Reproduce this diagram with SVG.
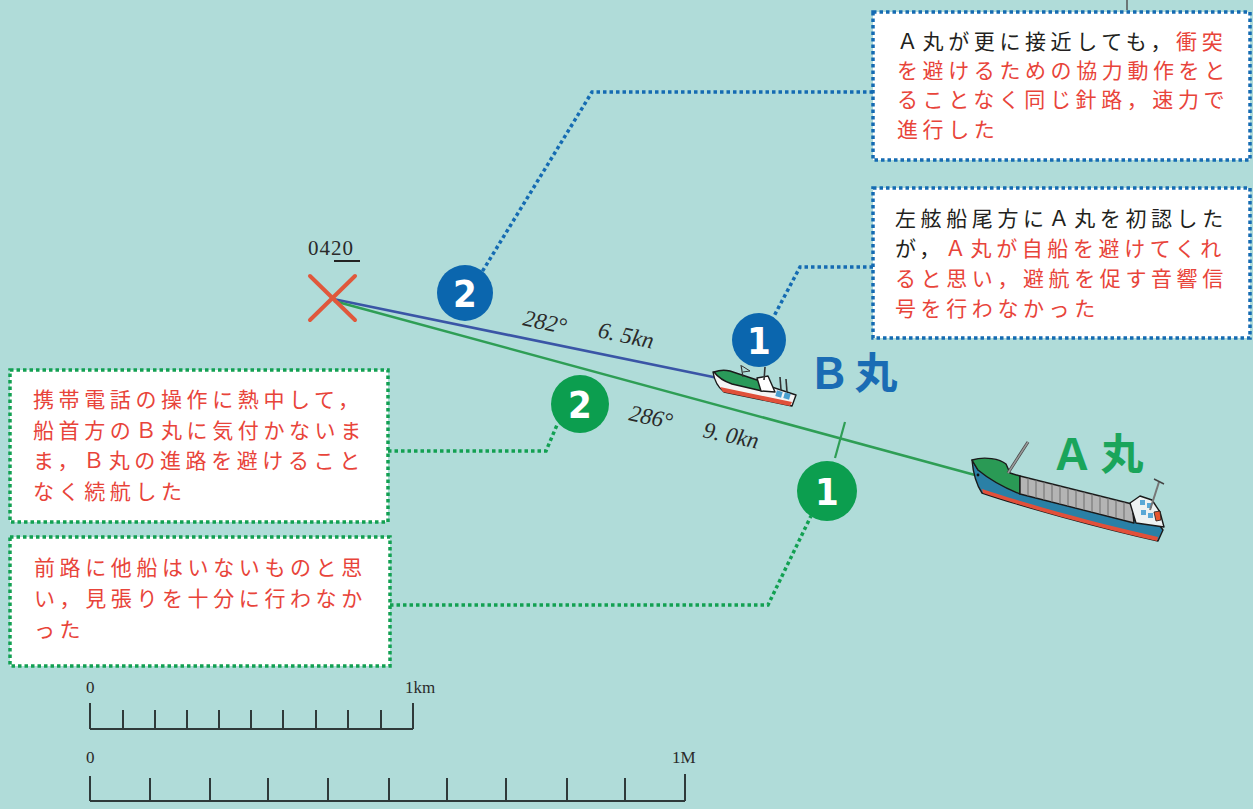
<svg xmlns="http://www.w3.org/2000/svg" width="1253" height="809" viewBox="0 0 1253 809">
  <style>
    .box { fill: #ffffff; stroke-width: 3.5; stroke-dasharray: 3.5 3; }
    .box-b { stroke: #156bb2; }
    .box-g { stroke: #12a052; }
    .note { font-family: "Noto Sans CJK JP", sans-serif; font-size: 21px; letter-spacing: 4.6px; fill: #e8443a; }
    .ink { fill: #231f20; }
    .lead { fill: none; stroke-width: 3.5; stroke-dasharray: 3.5 3; }
    .lead-b { stroke: #156bb2; }
    .lead-g { stroke: #12a052; }
    .num { font-family: "DejaVu Sans Condensed", "DejaVu Sans", sans-serif; font-stretch: condensed; font-weight: bold; font-size: 38px; fill: #ffffff; text-anchor: middle; }
    .course { font-family: "Liberation Serif", serif; font-style: italic; font-size: 23px; fill: #2a2a2a; }
    .scale { font-family: "Liberation Serif", serif; font-size: 17px; fill: #2a2a2a; }
    .time { font-family: "Liberation Serif", serif; font-size: 21px; letter-spacing: 1px; fill: #2a2a2a; }
    .bar { fill: none; stroke: #2f3a3a; stroke-width: 2; }
    .name { font-family: "Noto Sans CJK JP", sans-serif; font-weight: bold; font-size: 43px; text-anchor: middle; }
    .outline { stroke: #1a1a1a; stroke-width: 1.4; stroke-linejoin: round; }
  </style>

  <!-- sea -->
  <rect x="0" y="0" width="1253" height="809" fill="#b0dcd9"/>

  <!-- tracks and leader lines -->
  <g id="connectors">
    <line x1="1127" y1="0" x2="1127" y2="10" stroke="#555" stroke-width="1.5"/>
    <!-- B track -->
    <line x1="333" y1="299" x2="718" y2="378" stroke="#3a55a6" stroke-width="2.6"/>
    <!-- A track -->
    <line x1="334" y1="301" x2="975" y2="475" stroke="#2e9e55" stroke-width="2.6"/>
    <line x1="845" y1="422" x2="835" y2="458" stroke="#2e9e55" stroke-width="2.2"/>
    <!-- leaders -->
    <polyline class="lead lead-b" points="873,92 592,92 482,272"/>
    <polyline class="lead lead-b" points="873,267 800,267 773,318"/>
    <polyline class="lead lead-g" points="388,451 546,451 557,425"/>
    <polyline class="lead lead-g" points="390,605 768,605 811,516"/>
  </g>

  <!-- start position -->
  <g id="start-mark">
    <text class="time" x="308" y="255">0420</text>
    <line x1="334" y1="261" x2="360" y2="261" stroke="#222" stroke-width="2"/>
    <line x1="310" y1="276" x2="355" y2="320" stroke="#e0583c" stroke-width="4" stroke-linecap="round"/>
    <line x1="355" y1="276" x2="310" y2="320" stroke="#e0583c" stroke-width="4" stroke-linecap="round"/>
  </g>

  <!-- course / speed labels -->
  <g id="course-labels">
    <text class="course" transform="translate(522,325) rotate(12)">282°</text>
    <text class="course" transform="translate(597,337) rotate(12)">6. 5kn</text>
    <text class="course" transform="translate(628,420) rotate(12)">286°</text>
    <text class="course" transform="translate(702,437) rotate(12)">9. 0kn</text>
  </g>

  <!-- numbered markers -->
  <g id="marker-b2">
    <circle cx="465" cy="293" r="28" fill="#0b66ae"/>
    <text class="num" x="465" y="307">2</text>
  </g>
  <g id="marker-b1">
    <circle cx="759" cy="340" r="27" fill="#0b66ae"/>
    <text class="num" x="759" y="354">1</text>
  </g>
  <g id="marker-a2">
    <circle cx="580" cy="404" r="29" fill="#0c9e4f"/>
    <text class="num" x="580" y="418">2</text>
  </g>
  <g id="marker-a1">
    <circle cx="827" cy="491" r="30" fill="#0c9e4f"/>
    <text class="num" x="827" y="505">1</text>
  </g>

  <!-- ship B -->
  <g id="ship-b">
    <path class="outline" d="M713,372 L730,373 L796,395 L792,406 L724,392 Q715,385 713,372 Z" fill="#f4f4f4"/>
    <path d="M720,387 L792,402 L790,406 L723,392 Z" fill="#e0503a"/>
    <path class="outline" d="M714,372 Q722,369 730,371 L760,381 L762,391 L732,384 Q720,380 714,372 Z" fill="#2a9a5a"/>
    <path class="outline" d="M757,378 L768,376 L775,392 L761,391 Z" fill="#ffffff"/>
    <rect x="776" y="391" width="6" height="6" fill="#4aa0d0" transform="rotate(16 779 394)"/>
    <rect x="784" y="393" width="6" height="6" fill="#4aa0d0" transform="rotate(16 787 396)"/>
    <line x1="741" y1="365" x2="743" y2="377" stroke="#333" stroke-width="1.2"/>
    <path d="M742,366 L750,371 L743,372" fill="none" stroke="#333" stroke-width="1"/>
    <line x1="765" y1="367" x2="764" y2="380" stroke="#333" stroke-width="1.6"/>
    <line x1="780" y1="377" x2="781" y2="390" stroke="#333" stroke-width="1.6"/>
    <line x1="786" y1="379" x2="787" y2="392" stroke="#333" stroke-width="1.6"/>
  </g>
  <g id="label-b">
    <text class="name" fill="#1a6cb4"><tspan x="829" y="389">Ｂ</tspan><tspan x="876" y="389">丸</tspan></text>
  </g>

  <!-- ship A -->
  <g id="ship-a">
    <!-- hull side -->
    <path class="outline" d="M972,460 L978,470 L1020,493 L1160,526 L1163,530 L1158,541 C1100,528 1020,506 982,493 C976,484 973,472 972,460 Z" fill="#2a80a6"/>
    <path d="M982,489 C1030,505 1100,524 1158,537 L1157,541 C1100,528 1030,509 983,493 Z" fill="#e2503a"/>
    <!-- forecastle -->
    <path class="outline" d="M972,460 C985,456 1000,459 1006,464 L1010,473 L1020,476 L1020,494 C1005,488 990,480 978,470 Z" fill="#2a9a55"/>
    <circle cx="978" cy="475" r="1.4" fill="#111"/>
    <!-- cargo hatch -->
    <path class="outline" d="M1020,476 L1132,504 L1134,523 L1020,494 Z" fill="#b4b4b4"/>
    <g stroke="#6e6e6e" stroke-width="1">
      <line x1="1028" y1="478" x2="1028" y2="496"/>
      <line x1="1036" y1="480" x2="1036" y2="498"/>
      <line x1="1044" y1="482" x2="1044" y2="500"/>
      <line x1="1052" y1="484" x2="1052" y2="502"/>
      <line x1="1060" y1="486" x2="1060" y2="504"/>
      <line x1="1068" y1="488" x2="1068" y2="506"/>
      <line x1="1076" y1="490" x2="1076" y2="508"/>
      <line x1="1084" y1="492" x2="1084" y2="510"/>
      <line x1="1092" y1="494" x2="1092" y2="512"/>
      <line x1="1100" y1="496" x2="1100" y2="514"/>
      <line x1="1108" y1="498" x2="1108" y2="516"/>
      <line x1="1116" y1="500" x2="1116" y2="518"/>
      <line x1="1124" y1="502" x2="1124" y2="520"/>
    </g>
    <!-- superstructure -->
    <path class="outline" d="M1130,503 L1140,496 L1152,500 L1160,512 L1164,527 L1136,523 Z" fill="#eef2f2"/>
    <rect x="1140" y="500" width="5" height="5" fill="#5aa8d6"/>
    <rect x="1147" y="503" width="5" height="5" fill="#5aa8d6"/>
    <rect x="1141" y="510" width="5" height="5" fill="#5aa8d6"/>
    <rect x="1148" y="513" width="5" height="5" fill="#5aa8d6"/>
    <path d="M1154,512 L1160,511 L1161,520 L1156,521 Z" fill="#e8562e" stroke="#1a1a1a" stroke-width="0.8"/>
    <line x1="1159" y1="482" x2="1150" y2="510" stroke="#777" stroke-width="2"/>
    <path d="M1154,479 L1164,484" stroke="#444" stroke-width="1.5"/>
    <!-- forward crane -->
    <line x1="1028" y1="442" x2="1008" y2="473" stroke="#444" stroke-width="3"/>
    <line x1="1028" y1="442" x2="1008" y2="473" stroke="#9a9a9a" stroke-width="1.5"/>
  </g>
  <g id="label-a">
    <text class="name" fill="#1aa55b"><tspan x="1072" y="470">Ａ</tspan><tspan x="1122" y="470">丸</tspan></text>
  </g>

  <!-- note boxes -->
  <g id="note-b2">
    <rect class="box box-b" x="873" y="12" width="377" height="148"/>
    <text class="note">
      <tspan x="897" y="49"><tspan class="ink">Ａ丸が更に接近しても，</tspan>衝突</tspan>
      <tspan x="897" y="78">を避けるための協力動作をと</tspan>
      <tspan x="897" y="107">ることなく同じ針路，速力で</tspan>
      <tspan x="897" y="137">進行した</tspan>
    </text>
  </g>
  <g id="note-b1">
    <rect class="box box-b" x="873" y="188" width="377" height="150"/>
    <text class="note">
      <tspan x="895" y="226" class="ink">左舷船尾方にＡ丸を初認した</tspan>
      <tspan x="895" y="256"><tspan class="ink">が，</tspan>Ａ丸が自船を避けてくれ</tspan>
      <tspan x="895" y="286">ると思い，避航を促す音響信</tspan>
      <tspan x="895" y="316">号を行わなかった</tspan>
    </text>
  </g>
  <g id="note-a2">
    <rect class="box box-g" x="10" y="370" width="378" height="152"/>
    <text class="note">
      <tspan x="33" y="407">携帯電話の操作に熱中して，</tspan>
      <tspan x="33" y="438">船首方のＢ丸に気付かないま</tspan>
      <tspan x="33" y="468">ま，Ｂ丸の進路を避けること</tspan>
      <tspan x="33" y="499">なく続航した</tspan>
    </text>
  </g>
  <g id="note-a1">
    <rect class="box box-g" x="10" y="537" width="380" height="129"/>
    <text class="note">
      <tspan x="34" y="575">前路に他船はいないものと思</tspan>
      <tspan x="34" y="606">い，見張りを十分に行わなか</tspan>
      <tspan x="34" y="637">った</tspan>
    </text>
  </g>

  <!-- scale bars -->
  <g id="scale-km">
    <text class="scale" x="86" y="693">0</text>
    <text class="scale" x="405" y="693">1km</text>
    <path class="bar" d="M90,729 H413 M90,703 V729 M413,703 V729 M123,710 V729 M155,710 V729 M187,710 V729 M219,710 V729 M251,710 V729 M283,710 V729 M316,710 V729 M348,710 V729 M381,710 V729"/>
  </g>
  <g id="scale-nm">
    <text class="scale" x="86" y="763">0</text>
    <text class="scale" x="672" y="763">1M</text>
    <path class="bar" d="M90,801 H685 M90,776 V801 M685,774 V801 M150,778 V801 M210,778 V801 M268,778 V801 M328,778 V801 M389,778 V801 M447,778 V801 M506,778 V801 M567,778 V801 M625,778 V801"/>
  </g>
</svg>
